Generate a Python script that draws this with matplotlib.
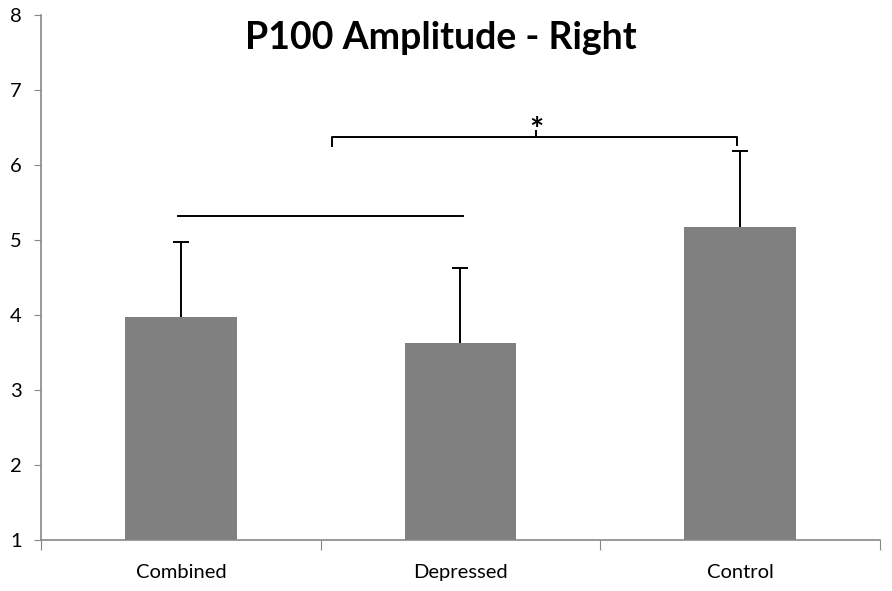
import matplotlib
matplotlib.use("Agg")
import matplotlib.pyplot as plt

# data
groups = ["Combined", "Depressed", "Control"]
means = [3.98, 3.63, 5.17]
errors = [1.0, 1.0, 1.02]
yticks = [1, 2, 3, 4, 5, 6, 7, 8]

plt.rcParams["font.family"] = ["Lato", "DejaVu Sans"]

fig = plt.figure(figsize=(8.92, 5.91), dpi=100)
ax = fig.add_axes([0.046, 0.0863, 0.9405, 0.8883])

x = list(range(len(groups)))
tops = [m + e for m, e in zip(means, errors)]
ax.bar(x, [m - 1 for m in means], bottom=1, width=0.4, color="#808080", zorder=2)
# upper-only error bars with a cap on top
ax.errorbar(x, means, yerr=[[0] * len(errors), errors], fmt="none",
            ecolor="black", elinewidth=1.4, capsize=0, zorder=3)
ax.plot(x, tops, ls="none", marker="_", ms=11, mew=1.4, color="black", zorder=3)

ax.set_xlim(-0.5, 2.5)
ax.set_ylim(1, 8)
ax.set_yticks(yticks)
ax.set_xticks([-0.5, 0.5, 1.5, 2.5])
ax.set_xticklabels([])
ax.set_xticks(x, minor=True)
ax.set_xticklabels(groups, minor=True, fontsize=14.5)
ax.tick_params(axis="x", which="major", direction="out", length=7, color="#888888")
ax.tick_params(axis="x", which="minor", length=0, pad=17)
ax.tick_params(axis="y", direction="out", length=5, color="#888888", labelsize=14.5, pad=9)

for s in ["top", "right"]:
    ax.spines[s].set_visible(False)
for s in ["left", "bottom"]:
    ax.spines[s].set_color("#888888")
    ax.spines[s].set_linewidth(1.2)

# significance markings
ax.plot([-0.01, 1.01], [5.32, 5.32], color="black", lw=1.4)
ax.plot([0.54, 0.54, 1.99, 1.99], [6.26, 6.37, 6.37, 6.27], color="black", lw=1.4)
ax.plot([1.27, 1.27], [6.37, 6.45], color="black", lw=1.4)
ax.text(1.27, 6.26, "*", ha="center", va="bottom", fontsize=24, fontweight="bold")

fig.text(0.494, 0.935, "P100 Amplitude - Right", ha="center", va="center",
         fontsize=27, fontweight="bold")

fig.savefig("out.png", dpi=100)
